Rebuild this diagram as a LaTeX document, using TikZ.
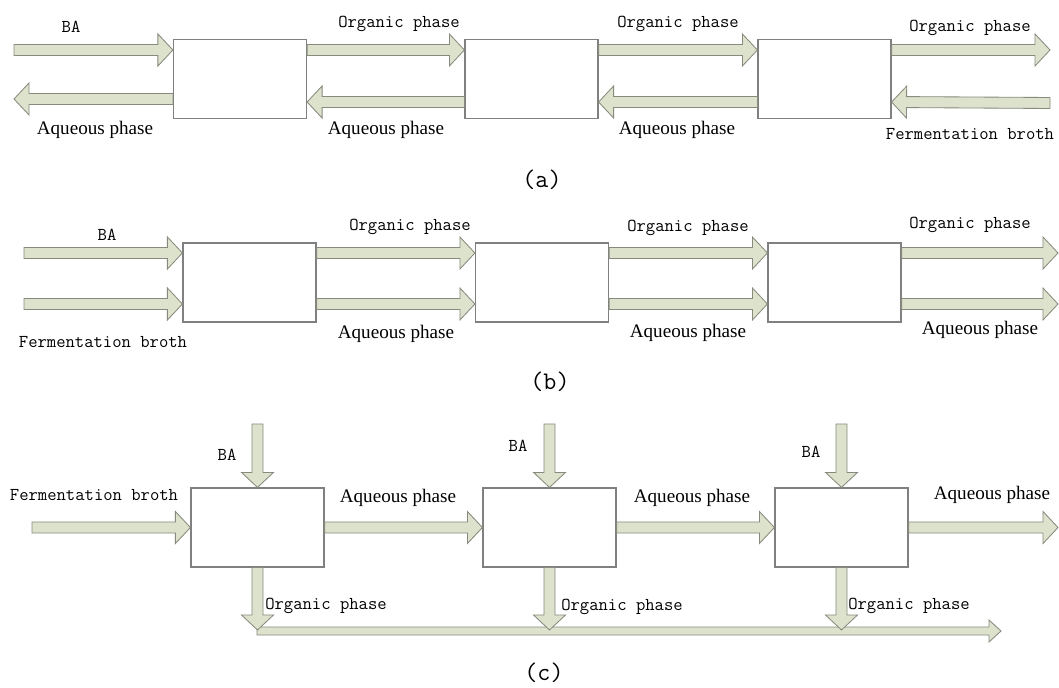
\documentclass[tikz,border=0pt]{standalone}
\usepackage{fontspec}
\setmainfont{Liberation Serif}
\usetikzlibrary{calc}

\definecolor{flowfill}{RGB}{221,226,205}
\definecolor{flowedge}{RGB}{135,138,125}
\definecolor{boxedge}{RGB}{128,128,128}

% sizes of the block arrows
\newcommand{\shaftw}{0.1375cm}
\newcommand{\headw}{0.4cm}
\newcommand{\headl}{0.375cm}
% block arrow from #1 to #2
\newcommand{\flowarrow}[2]{%
  \coordinate (fs) at (#1);
  \coordinate (fe) at (#2);
  \coordinate (fh) at ($(fe)!\headl!(fs)$);
  \draw[flow] ($(fs)!\shaftw!90:(fe)$) -- ($(fh)!\shaftw!90:(fe)$) -- ($(fh)!\headw!90:(fe)$) -- (fe)
    -- ($(fh)!\headw!-90:(fe)$) -- ($(fh)!\shaftw!-90:(fe)$) -- ($(fs)!\shaftw!-90:(fe)$) -- cycle;
}

\begin{document}
\begin{tikzpicture}[x=0.025cm,y=-0.025cm]
\tikzstyle{flow}=[fill=flowfill, draw=flowedge, line width=0.6pt, line join=miter]
\tikzstyle{unit}=[draw=boxedge, fill=white, line width=0.8pt, minimum width=3.325cm, minimum height=1.975cm, inner sep=0pt]
\tikzstyle{mono}=[font=\ttfamily\fontsize{12.9}{15}\selectfont, inner sep=0pt]
\tikzstyle{serif}=[font=\fontsize{13.6}{15}\selectfont, inner sep=0pt]
\tikzstyle{tag}=[font=\ttfamily\fontsize{18}{20}\selectfont, inner sep=0pt]

\useasboundingbox (0,0) rectangle (1059,688);

% (a) counter-current
\node[unit] (a1) at (240,79) {};
\node[unit] (a2) at (531.5,79) {};
\node[unit] (a3) at (824.5,79) {};
\coordinate (aTop) at (0,50);
\coordinate (aBot) at (0,102);
\coordinate (aBAin) at (14,50);
\coordinate (aAqout) at (14,99);
\coordinate (aOrgout) at (1050,50);
\coordinate (aFermin) at (1050,103);
\flowarrow{aBAin}{a1.west |- aTop}
\flowarrow{a1.east |- aTop}{a2.west |- aTop}
\flowarrow{a2.east |- aTop}{a3.west |- aTop}
\flowarrow{a3.east |- aTop}{aOrgout}
\flowarrow{a1.west |- aAqout}{aAqout}
\flowarrow{a2.west |- aBot}{a1.east |- aBot}
\flowarrow{a3.west |- aBot}{a2.east |- aBot}
\flowarrow{aFermin}{a3.east |- aBot}
\node[mono] (aBA) at (71,27) {BA};
\node[serif] (aAq1) at (95,130) {Aqueous phase};
\node[mono] (aOrg1) at (399,24) {Organic phase};
\node[serif] (aAq2) at (386,130) {Aqueous phase};
\node[mono] (aOrg2) at (678,24) {Organic phase};
\node[serif] (aAq3) at (677,130) {Aqueous phase};
\node[mono] (aOrg3) at (970,28) {Organic phase};
\node[mono] (aFerm) at (970,134) {Fermentation broth};
\node[tag] (aTag) at (542,180) {(a)};

% (b) co-current
\node[unit] (b1) at (249.5,282.5) {};
\node[unit] (b2) at (542,282.5) {};
\node[unit] (b3) at (834.5,282.5) {};
\coordinate (bTop) at (0,253);
\coordinate (bBot) at (0,304);
\coordinate (bBAin) at (24,253);
\coordinate (bFermin) at (24,304);
\coordinate (bOrgout) at (1058,253);
\coordinate (bAqout) at (1058,304);
\flowarrow{bBAin}{b1.west |- bTop}
\flowarrow{bFermin}{b1.west |- bBot}
\flowarrow{b1.east |- bTop}{b2.west |- bTop}
\flowarrow{b1.east |- bBot}{b2.west |- bBot}
\flowarrow{b2.east |- bTop}{b3.west |- bTop}
\flowarrow{b2.east |- bBot}{b3.west |- bBot}
\flowarrow{b3.east |- bTop}{bOrgout}
\flowarrow{b3.east |- bBot}{bAqout}
\node[mono] (bBA) at (107,235) {BA};
\node[mono] (bFerm) at (103,342) {Fermentation broth};
\node[mono] (bOrg1) at (410,227) {Organic phase};
\node[serif] (bAq1) at (396,334) {Aqueous phase};
\node[mono] (bOrg2) at (688,228) {Organic phase};
\node[serif] (bAq2) at (688,333) {Aqueous phase};
\node[mono] (bOrg3) at (970,225) {Organic phase};
\node[serif] (bAq3) at (980,330) {Aqueous phase};
\node[tag] (bTag) at (550,382) {(b)};

% (c) cross-current
\node[unit] (c1) at (257.5,527.5) {};
\node[unit] (c2) at (549.5,527.5) {};
\node[unit] (c3) at (841.5,527.5) {};
\coordinate (cBAtop) at (0,424);
\coordinate (cOrgtip) at (0,630);
\coordinate (cFermin) at (32,527.5);
\coordinate (cAqout) at (1058,527.5);
\coordinate (cColl) at (257,631);
\coordinate (cCollend) at (1001,631);
{\renewcommand{\shaftw}{0.1cm}\renewcommand{\headw}{0.275cm}\renewcommand{\headl}{0.3cm}
\flowarrow{cColl}{cCollend}}
\flowarrow{cFermin}{c1.west}
\flowarrow{c1.east}{c2.west}
\flowarrow{c2.east}{c3.west}
\flowarrow{c3.east}{cAqout}
\flowarrow{c1.north |- cBAtop}{c1.north}
\flowarrow{c2.north |- cBAtop}{c2.north}
\flowarrow{c3.north |- cBAtop}{c3.north}
\flowarrow{c1.south}{c1.south |- cOrgtip}
\flowarrow{c2.south}{c2.south |- cOrgtip}
\flowarrow{c3.south}{c3.south |- cOrgtip}
\node[mono] (cFerm) at (94,495) {Fermentation broth};
\node[mono] (cBA1) at (227,455) {BA};
\node[mono] (cBA2) at (518,446) {BA};
\node[mono] (cBA3) at (811,452) {BA};
\node[serif] (cAq1) at (398,498) {Aqueous phase};
\node[serif] (cAq2) at (692,498) {Aqueous phase};
\node[serif] (cAq3) at (992,495) {Aqueous phase};
\node[mono] (cOrg1) at (326,606) {Organic phase};
\node[mono] (cOrg2) at (622,607) {Organic phase};
\node[mono] (cOrg3) at (909,606) {Organic phase};
\node[tag] (cTag) at (544,673) {(c)};
\end{tikzpicture}
\end{document}
